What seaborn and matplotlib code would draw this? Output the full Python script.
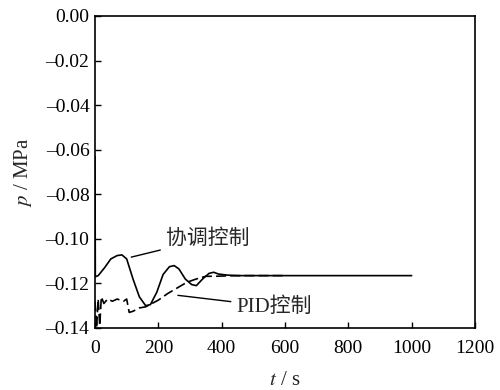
import matplotlib.pyplot as plt
import seaborn as sns
import pandas as pd

# 协调控制 (solid)
t_coord = [0, 1, 10, 30, 50, 70, 85, 100, 120, 140, 160, 175, 195, 215, 235, 250, 265, 285, 305, 320,
           340, 360, 375, 390, 420, 460, 520, 600, 700, 800, 900, 1000]
p_coord = [-0.063, -0.117, -0.1165, -0.113, -0.109, -0.1075, -0.1072, -0.109, -0.118, -0.126, -0.130,
           -0.1295, -0.124, -0.116, -0.1125, -0.112, -0.1135, -0.118, -0.1205, -0.121, -0.118, -0.1155,
           -0.115, -0.1158, -0.1163, -0.1165, -0.1165, -0.1165, -0.1165, -0.1165, -0.1165, -0.1165]

# PID控制 (dashed)
t_pid = [0, 5, 10, 15, 20, 28, 40, 55, 70, 90, 100, 108, 120, 140, 160, 180, 200, 230, 260, 290,
         320, 350, 380, 420, 480, 560, 600]
p_pid = [-0.128, -0.140, -0.127, -0.139, -0.126, -0.129, -0.127, -0.128, -0.127, -0.128, -0.127, -0.133,
         -0.1325, -0.131, -0.1305, -0.129, -0.1275, -0.1245, -0.122, -0.1195, -0.118, -0.1168, -0.1168,
         -0.1166, -0.1165, -0.1165, -0.1165]

x_ticks = [0, 200, 400, 600, 800, 1000, 1200]
y_ticks = [0.00, -0.02, -0.04, -0.06, -0.08, -0.10, -0.12, -0.14]

sns.set_theme(style="ticks")
plt.rcParams['font.family'] = ['Liberation Serif', 'Noto Sans CJK SC']
plt.rcParams['mathtext.fontset'] = 'stix'

fig = plt.figure(figsize=(5, 3.9), dpi=100)
ax = fig.add_axes([0.19, 0.159, 0.76, 0.8])

df_c = pd.DataFrame({'t': t_coord, 'p': p_coord})
df_p = pd.DataFrame({'t': t_pid, 'p': p_pid})
sns.lineplot(data=df_c, x='t', y='p', ax=ax, color='black', linewidth=1.2, sort=False)
sns.lineplot(data=df_p, x='t', y='p', ax=ax, color='black', linewidth=1.2, sort=False,
             linestyle=(0, (6, 2.5)))

ax.set_xlim(0, 1200)
ax.set_ylim(-0.14, 0.0)
ax.set_xticks(x_ticks)
ax.set_yticks(y_ticks)
ax.set_xticklabels([str(v) for v in x_ticks])
ax.set_yticklabels([f'{v:.2f}'.replace('-', '\u2013') if v != 0 else '0.00' for v in y_ticks])
ax.tick_params(direction='in', length=4, width=1, colors='black', labelsize=14)
ax.tick_params(axis='x', pad=9)
ax.tick_params(axis='y', pad=4)
for s in ax.spines.values():
    s.set_linewidth(1.2)
    s.set_color('black')

ax.set_xlabel('$t$ / s', fontsize=15, labelpad=10)
ax.set_ylabel('$p$ / MPa', fontsize=15, labelpad=8)

ax.annotate('协调控制', xy=(106, -0.1085), xytext=(225, -0.0998), fontsize=15,
            family=['Noto Sans CJK SC'], va='center', ha='left',
            arrowprops=dict(arrowstyle='-', color='black', lw=1))
ax.annotate('PID控制', xy=(253, -0.1252), xytext=(448, -0.1305), fontsize=15,
            family=['Liberation Serif', 'Noto Sans CJK SC'], va='center', ha='left',
            arrowprops=dict(arrowstyle='-', color='black', lw=1))

plt.savefig('out.png', dpi=100)
